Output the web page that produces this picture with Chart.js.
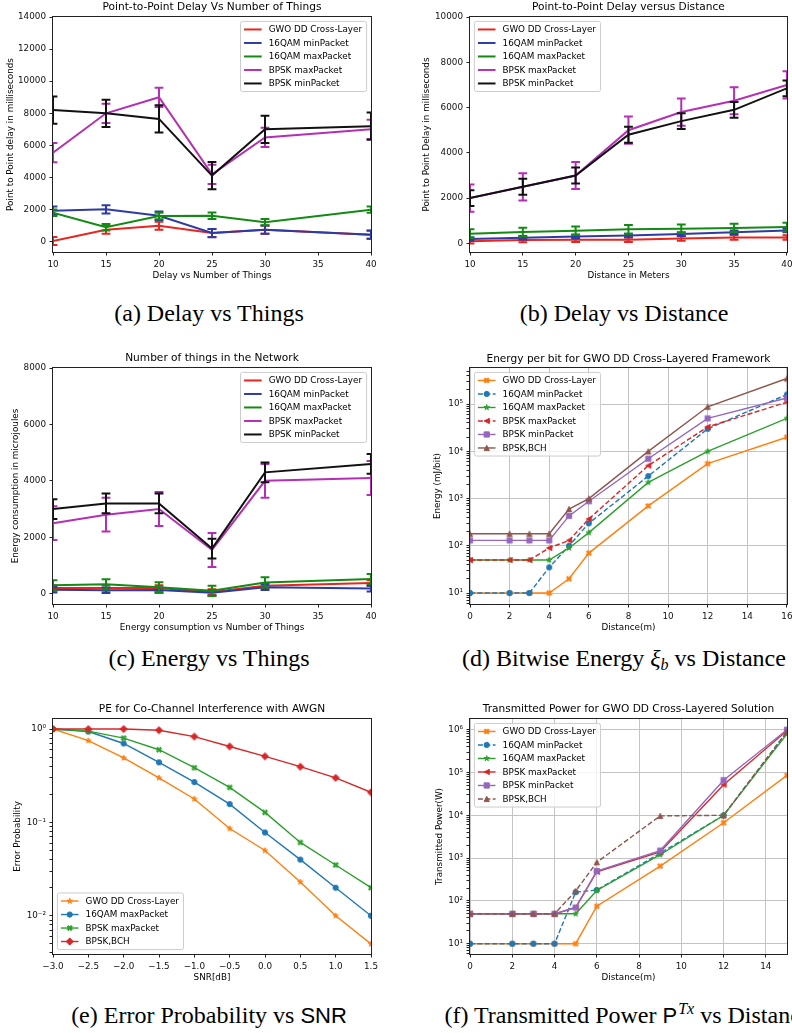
<!DOCTYPE html>
<html>
<head>
<meta charset="utf-8">
<script src="https://cdn.jsdelivr.net/npm/chart.js"></script>
<style>
  html, body { margin: 0; padding: 0; background: #fff; }
  body { position: relative; width: 792px; height: 1033px; overflow: hidden; }
  canvas { position: absolute; }
  .cap { position: absolute; width: 600px; text-align: center; white-space: nowrap;
         font-family: 'Liberation Serif', serif; font-size: 24px; line-height: 24px; color: #000; }
  .sf { font-family: 'Liberation Sans', sans-serif; font-size: 22px; }
  .sub { font-size: 16px; line-height: 0; vertical-align: -4px; font-style: italic; }
  .sup { font-size: 16px; line-height: 0; vertical-align: 9px; font-style: italic; padding-left: 1px; }
</style>
</head>
<body>
<canvas id="cA" width="396" height="292" style="left:0;top:0"></canvas>
<canvas id="cB" width="400" height="292" style="left:396px;top:0"></canvas>
<canvas id="cC" width="396" height="295" style="left:0;top:345px"></canvas>
<canvas id="cD" width="400" height="295" style="left:396px;top:345px"></canvas>
<canvas id="cE" width="396" height="300" style="left:0;top:695px"></canvas>
<canvas id="cF" width="400" height="300" style="left:396px;top:695px"></canvas>

<div class="cap" style="left:-91px;top:301px">(a) Delay vs Things</div>
<div class="cap" style="left:324px;top:301px">(b) Delay vs Distance</div>
<div class="cap" style="left:-91px;top:646px">(c) Energy vs Things</div>
<div class="cap" style="left:324px;top:646px">(d) Bitwise Energy <i>ξ</i><span class="sub">b</span> vs Distance</div>
<div class="cap" style="left:-91px;top:1003px">(e) Error Probability vs <span class="sf">SNR</span></div>
<div class="cap" style="left:328px;top:1003px">(f) Transmitted Power <span class="sf">P</span><span class="sup">Tx</span> vs Distance</div>

<script>
// ---------- data ----------
const labels5 = ['GWO DD Cross-Layer', '16QAM minPacket', '16QAM maxPacket', 'BPSK maxPacket', 'BPSK minPacket'];
const labels6 = ['GWO DD Cross-Layer', '16QAM minPacket', '16QAM maxPacket', 'BPSK maxPacket', 'BPSK minPacket', 'BPSK,BCH'];
const peLabels = ['GWO DD Cross-Layer', '16QAM maxPacket', 'BPSK maxPacket', 'BPSK,BCH'];

// (a) delay vs number of things
const thingsX = [10, 15, 20, 25, 30, 40];
const thingsXTicks = [10, 15, 20, 25, 30, 35, 40];
const delayThingsYTicks = [0, 2000, 4000, 6000, 8000, 10000, 12000, 14000];
const delayThingsGwo     = [50, 750, 1000, 540, 750, 440];
const delayThingsQamMin  = [1930, 2020, 1620, 540, 750, 440];
const delayThingsQamMax  = [1800, 900, 1600, 1620, 1220, 2000];
const delayThingsBpskMax = [5550, 8000, 9000, 4200, 6500, 7000];
const delayThingsBpskMin = [8200, 8000, 7650, 4120, 7000, 7200];
const delayThingsErrGwo     = [250, 250, 250, 250, 250, 250];
const delayThingsErrQamMin  = [260, 260, 260, 260, 260, 260];
const delayThingsErrQamMax  = [200, 200, 200, 200, 200, 200];
const delayThingsErrBpskMax = [600, 600, 600, 600, 600, 600];
const delayThingsErrBpskMin = [850, 850, 850, 850, 850, 850];

// (b) delay vs distance
const distX = [10, 15, 20, 25, 30, 35, 40];
const distXTicks = [10, 15, 20, 25, 30, 35, 40];
const delayDistYTicks = [0, 2000, 4000, 6000, 8000, 10000];
const delayDistGwo     = [90, 150, 160, 160, 220, 260, 260];
const delayDistQamMin  = [190, 250, 310, 350, 410, 490, 570];
const delayDistQamMax  = [430, 500, 560, 620, 650, 680, 720];
const delayDistBpskMax = [2000, 2500, 3000, 5000, 5800, 6300, 7000];
const delayDistBpskMin = [2000, 2500, 3000, 4800, 5400, 5900, 6850];
const delayDistErrGwo     = [100, 100, 100, 100, 100, 100, 100];
const delayDistErrQamMin  = [80, 80, 80, 80, 80, 80, 80];
const delayDistErrQamMax  = [190, 190, 190, 190, 190, 190, 190];
const delayDistErrBpskMax = [600, 600, 600, 600, 600, 600, 600];
const delayDistErrBpskMin = [350, 350, 350, 350, 350, 350, 350];

// (c) energy vs number of things
const energyThingsYTicks = [0, 2000, 4000, 6000, 8000];
const energyThingsGwo     = [200, 200, 200, 60, 280, 380];
const energyThingsQamMin  = [140, 120, 130, 30, 230, 180];
const energyThingsQamMax  = [300, 330, 225, 100, 400, 520];
const energyThingsBpskMax = [2500, 2800, 3000, 1550, 4000, 4100];
const energyThingsBpskMin = [3000, 3200, 3200, 1600, 4300, 4600];
const energyThingsErrGwo     = [100, 100, 100, 100, 100, 100];
const energyThingsErrQamMin  = [100, 100, 100, 100, 100, 100];
const energyThingsErrQamMax  = [180, 180, 180, 180, 180, 180];
const energyThingsErrBpskMax = [600, 600, 600, 600, 600, 600];
const energyThingsErrBpskMin = [350, 350, 350, 350, 350, 350];

// (d) energy per bit vs distance
const bitDistX = [0, 2, 3, 4, 5, 6, 9, 12, 16];
const bitDistXTicks = [0, 2, 4, 6, 8, 10, 12, 14, 16];
const bitEnergyYTicks = [1e1, 1e2, 1e3, 1e4, 1e5];
const bitEnergyGwo     = [10, 10, 10, 10, 20, 70, 700, 5500, 20000];
const bitEnergyQamMin  = [10, 10, 10, 35, 100, 300, 3000, 30000, 160000];
const bitEnergyQamMax  = [50, 50, 50, 50, 90, 190, 2200, 10000, 50000];
const bitEnergyBpskMax = [50, 50, 50, 90, 130, 370, 5000, 33000, 110000];
const bitEnergyBpskMin = [130, 130, 130, 130, 430, 880, 7000, 50000, 135000];
const bitEnergyBch     = [180, 180, 180, 180, 600, 1000, 10000, 88000, 350000];

// (e) error probability vs SNR
const snrX = [-3, -2.5, -2, -1.5, -1, -0.5, 0, 0.5, 1, 1.5];
const snrXTicks = [-3, -2.5, -2, -1.5, -1, -0.5, 0, 0.5, 1, 1.5];
const peYTicks = [0.01, 0.1, 1];
const peGwo     = [1.0, 0.75, 0.49, 0.30, 0.178, 0.086, 0.05, 0.023, 0.01, 0.005];
const peQamMax  = [1.0, 0.94, 0.70, 0.44, 0.27, 0.157, 0.078, 0.040, 0.020, 0.010];
const peBpskMax = [1.0, 0.95, 0.80, 0.60, 0.385, 0.237, 0.128, 0.061, 0.035, 0.020];
const peBch     = [1.0, 1.0, 1.0, 0.97, 0.83, 0.65, 0.51, 0.395, 0.30, 0.21];

// (f) transmitted power vs distance
const powerX = [0, 2, 3, 4, 5, 6, 9, 12, 15];
const powerXTicks = [0, 2, 4, 6, 8, 10, 12, 14];
const powerYTicks = [1e1, 1e2, 1e3, 1e4, 1e5, 1e6];
const powerGwo     = [10, 10, 10, 10, 10, 75, 650, 6700, 86000];
const powerQamMin  = [10, 10, 10, 10, 160, 180, 1300, 10000, 900000];
const powerQamMax  = [50, 50, 50, 50, 50, 175, 1200, 10000, 800000];
const powerBpskMax = [50, 50, 50, 50, 70, 480, 1400, 52000, 950000];
const powerBpskMin = [50, 50, 50, 50, 70, 500, 1500, 66000, 1000000];
const powerBch     = [50, 50, 50, 50, 170, 800, 9700, 10000, 900000];

// ---------- styling ----------
const FONT = "'DejaVu Sans', sans-serif";
const FS = 8.8;        // tick / label / legend size
const TITLE_FS = 10.6;
const C5 = ['#e8251f', '#2f3ba5', '#138a13', '#b52fb5', '#111111'];
const T10 = { blue: '#1f77b4', orange: '#ff7f0e', green: '#2ca02c', red: '#d62728', purple: '#9467bd', brown: '#8c564b' };

Chart.defaults.font.family = FONT;
Chart.defaults.font.size = FS;
Chart.defaults.color = '#000';

function drawMarker(ctx, mk, x, y, s, color) {
  const h = s / 2;
  ctx.save();
  ctx.fillStyle = color; ctx.strokeStyle = color; ctx.lineWidth = 0.9; ctx.setLineDash([]);
  ctx.beginPath();
  if (mk === 'o') ctx.arc(x, y, h, 0, Math.PI * 2);
  else if (mk === 's') ctx.rect(x - h, y - h, s, s);
  else if (mk === '^') { ctx.moveTo(x, y - h); ctx.lineTo(x + h, y + h); ctx.lineTo(x - h, y + h); ctx.closePath(); }
  else if (mk === '<') { ctx.moveTo(x - h, y); ctx.lineTo(x + h, y - h); ctx.lineTo(x + h, y + h); ctx.closePath(); }
  else if (mk === 'D') { const d = s * 0.68; ctx.moveTo(x, y - d); ctx.lineTo(x + d, y); ctx.lineTo(x, y + d); ctx.lineTo(x - d, y); ctx.closePath(); }
  else if (mk === '*') {
    for (let k = 0; k < 10; k++) {
      const r = k % 2 ? h * 0.4 : h * 1.1, a = -Math.PI / 2 + k * Math.PI / 5;
      ctx.lineTo(x + r * Math.cos(a), y + r * Math.sin(a));
    }
    ctx.closePath();
  } else if (mk === 'X') {
    [[-0.25, -0.5], [0, -0.25], [0.25, -0.5], [0.5, -0.25], [0.25, 0], [0.5, 0.25], [0.25, 0.5],
     [0, 0.25], [-0.25, 0.5], [-0.5, 0.25], [-0.25, 0], [-0.5, -0.25]]
      .forEach(p => ctx.lineTo(x + p[0] * s, y + p[1] * s));
    ctx.closePath();
  }
  ctx.fill(); ctx.stroke();
  ctx.restore();
}

function markerImage(mk, color, s) {
  const c = document.createElement('canvas');
  c.width = c.height = 16;
  drawMarker(c.getContext('2d'), mk, 8, 8, s, color);
  return c;
}

function pairs(xs, ys) { return xs.map((x, i) => ({ x: x, y: ys[i] })); }

// plain line with error bars (a-c)
function errLine(label, xs, ys, errs, color) {
  return { label: label, data: pairs(xs, ys), errors: errs, borderColor: color, backgroundColor: color,
           borderWidth: 2, pointRadius: 0, clip: 0 };
}

// line with markers (d-f)
function mkLine(label, xs, ys, color, mk, dashed, size) {
  size = size || 5.3;
  return { label: label, data: pairs(xs, ys), borderColor: color, backgroundColor: color,
           borderWidth: 1.4, borderDash: dashed ? [5, 2.4] : [], pointStyle: markerImage(mk, color, size),
           pointRadius: 3, mk: mk, mkSize: size, clip: 0 };
}

function sup(n) {
  const m = { '-': '\u207B', '0': '\u2070', '1': '\u00B9', '2': '\u00B2', '3': '\u00B3', '4': '\u2074',
              '5': '\u2075', '6': '\u2076', '7': '\u2077', '8': '\u2078', '9': '\u2079' };
  return String(n).split('').map(c => m[c]).join('');
}
const fmtPlain = v => String(v);
const fmtLog = v => '10' + sup(Math.round(Math.log10(v)));
const fmtSnr = v => (v < 0 ? '\u2212' : '') + Math.abs(v).toFixed(1);

function tickValues(a) {
  if (a.type !== 'logarithmic') return a.ticks;
  const out = [];
  for (let e = Math.floor(Math.log10(a.min)); e <= Math.ceil(Math.log10(a.max)); e++) {
    for (let k = 1; k < 10; k++) {
      const v = k === 1 ? Math.pow(10, e) : k * Math.pow(10, e);
      if (v >= a.min && v <= a.max) out.push(v);
    }
  }
  return out;
}

function axis(dir, a, size, titlePad) {
  const majors = a.ticks;
  return {
    type: a.type || 'linear', min: a.min, max: a.max,
    afterBuildTicks: s => { s.ticks = tickValues(a).map(v => ({ value: v })); },
    afterFit: s => { if (dir === 'x') s.height = size; else s.width = size; },
    ticks: { autoSkip: false, maxRotation: 0, minRotation: 0, padding: 3.5, color: '#111',
             font: { size: FS }, callback: v => majors.includes(v) ? a.fmt(v) : '' },
    grid: { drawOnChartArea: !!a.grid, lineWidth: 1, drawTicks: true, tickLength: 3.5,
            tickColor: '#222', tickWidth: 1,
            color: c => (c.tick && majors.includes(c.tick.value)) ? '#c4c4c4' : 'rgba(0,0,0,0)' },
    border: { display: false },
    title: { display: true, text: a.label, color: '#000', font: { size: FS },
             padding: dir === 'x' ? { top: 0, bottom: titlePad } : { top: titlePad, bottom: 0 } }
  };
}

// ---------- plugins ----------
const errorBars = {
  id: 'errorBars',
  afterDatasetDraw(chart, args) {
    const d = chart.data.datasets[args.index];
    if (!d.errors) return;
    const ctx = chart.ctx, xs = chart.scales.x, ys = chart.scales.y, a = chart.chartArea;
    ctx.save();
    ctx.beginPath(); ctx.rect(a.left, a.top, a.right - a.left, a.bottom - a.top); ctx.clip();
    ctx.strokeStyle = d.borderColor; ctx.lineWidth = d.borderWidth;
    d.data.forEach((p, i) => {
      const px = xs.getPixelForValue(p.x);
      const hi = ys.getPixelForValue(p.y + d.errors[i]);
      const lo = ys.getPixelForValue(p.y - d.errors[i]);
      ctx.beginPath();
      ctx.moveTo(px, hi); ctx.lineTo(px, lo);
      ctx.moveTo(px - 4.4, hi); ctx.lineTo(px + 4.4, hi);
      ctx.moveTo(px - 4.4, lo); ctx.lineTo(px + 4.4, lo);
      ctx.stroke();
    });
    ctx.restore();
  }
};

const frame = {
  id: 'frame',
  afterDatasetsDraw(chart) {
    const a = chart.chartArea, ctx = chart.ctx;
    ctx.save();
    ctx.strokeStyle = '#222'; ctx.lineWidth = 1;
    ctx.strokeRect(Math.round(a.left) - 0.5, Math.round(a.top) - 0.5,
                   Math.round(a.right - a.left) + 1, Math.round(a.bottom - a.top) + 1);
    ctx.restore();
  }
};

const mplLegend = {
  id: 'mplLegend',
  afterDraw(chart, args, opts) {
    const ctx = chart.ctx, a = chart.chartArea, items = chart.data.datasets;
    const pad = 0.4 * FS, hl = 2 * FS, htp = 0.8 * FS, ls = 0.5 * FS, bap = 0.5 * FS, rowH = FS + 0.3;
    ctx.save();
    ctx.font = FS + 'px ' + FONT;
    const tw = Math.max.apply(null, items.map(d => ctx.measureText(d.label).width));
    const w = pad * 2 + hl + htp + tw + 1;
    const h = pad * 2 + items.length * rowH + (items.length - 1) * ls;
    const x0 = opts.loc.indexOf('right') >= 0 ? a.right - bap - w : a.left + bap;
    const y0 = opts.loc.indexOf('upper') >= 0 ? a.top + bap : a.bottom - bap - h;
    const r = 2;
    ctx.beginPath();
    ctx.moveTo(x0 + r, y0); ctx.lineTo(x0 + w - r, y0); ctx.arcTo(x0 + w, y0, x0 + w, y0 + r, r);
    ctx.lineTo(x0 + w, y0 + h - r); ctx.arcTo(x0 + w, y0 + h, x0 + w - r, y0 + h, r);
    ctx.lineTo(x0 + r, y0 + h); ctx.arcTo(x0, y0 + h, x0, y0 + h - r, r);
    ctx.lineTo(x0, y0 + r); ctx.arcTo(x0, y0, x0 + r, y0, r);
    ctx.closePath();
    ctx.fillStyle = 'rgba(255,255,255,0.8)'; ctx.fill();
    ctx.strokeStyle = '#cccccc'; ctx.lineWidth = 1; ctx.stroke();
    items.forEach((d, i) => {
      const cy = y0 + pad + i * (rowH + ls) + rowH / 2;
      ctx.strokeStyle = d.borderColor; ctx.lineWidth = d.borderWidth;
      ctx.setLineDash(d.borderDash || []);
      ctx.beginPath(); ctx.moveTo(x0 + pad, cy); ctx.lineTo(x0 + pad + hl, cy); ctx.stroke();
      ctx.setLineDash([]);
      if (d.mk) drawMarker(ctx, d.mk, x0 + pad + hl / 2, cy, d.mkSize, d.borderColor);
      ctx.fillStyle = '#000'; ctx.textBaseline = 'middle'; ctx.textAlign = 'left';
      ctx.fillText(d.label, x0 + pad + hl + htp, cy + 0.5);
    });
    ctx.restore();
  }
};

// ---------- chart factory ----------
function makeChart(id, geo, cfg) {
  const canvas = document.getElementById(id);
  const W = canvas.width, H = canvas.height, p = geo.plot;
  const tLine = TITLE_FS * 1.2, titleTop = geo.titleY - tLine / 2;
  cfg.datasets.forEach((d, i) => { d.order = -i; });
  return new Chart(canvas, {
    type: 'line',
    data: { datasets: cfg.datasets },
    options: {
      responsive: false, animation: false, events: [],
      layout: { padding: { left: 0, top: 0, right: W - p.r, bottom: 0 } },
      plugins: {
        legend: { display: false },
        tooltip: { enabled: false },
        title: { display: true, text: cfg.title, fullSize: false, color: '#000',
                 font: { size: TITLE_FS, weight: 'normal' },
                 padding: { top: titleTop, bottom: p.t - tLine - titleTop } },
        mplLegend: { loc: cfg.legendLoc }
      },
      scales: {
        x: axis('x', cfg.x, H - p.b, H - geo.xLabelY - FS * 0.6),
        y: axis('y', cfg.y, p.l, geo.yLabelX - FS * 0.6)
      }
    },
    plugins: [errorBars, frame, mplLegend]
  });
}

// (a)
makeChart('cA', { plot: { l: 53, t: 17, r: 371, b: 252 }, titleY: 7.5, xLabelY: 276, yLabelX: 11 }, {
  title: 'Point-to-Point Delay Vs Number of Things', legendLoc: 'upper right',
  x: { min: 10, max: 40, ticks: thingsXTicks, fmt: fmtPlain, label: 'Delay vs Number of Things' },
  y: { min: -640, max: 14000, ticks: delayThingsYTicks, fmt: fmtPlain, label: 'Point to Point delay in milliseconds' },
  datasets: [
    errLine(labels5[0], thingsX, delayThingsGwo, delayThingsErrGwo, C5[0]),
    errLine(labels5[1], thingsX, delayThingsQamMin, delayThingsErrQamMin, C5[1]),
    errLine(labels5[2], thingsX, delayThingsQamMax, delayThingsErrQamMax, C5[2]),
    errLine(labels5[3], thingsX, delayThingsBpskMax, delayThingsErrBpskMax, C5[3]),
    errLine(labels5[4], thingsX, delayThingsBpskMin, delayThingsErrBpskMin, C5[4])
  ]
});

// (b)
makeChart('cB', { plot: { l: 74, t: 17, r: 391, b: 252 }, titleY: 7.5, xLabelY: 276, yLabelX: 31 }, {
  title: 'Point-to-Point Delay versus Distance', legendLoc: 'upper left',
  x: { min: 10, max: 40, ticks: distXTicks, fmt: fmtPlain, label: 'Distance in Meters' },
  y: { min: -380, max: 10000, ticks: delayDistYTicks, fmt: fmtPlain, label: 'Point to Point Delay in milliseconds' },
  datasets: [
    errLine(labels5[0], distX, delayDistGwo, delayDistErrGwo, C5[0]),
    errLine(labels5[1], distX, delayDistQamMin, delayDistErrQamMin, C5[1]),
    errLine(labels5[2], distX, delayDistQamMax, delayDistErrQamMax, C5[2]),
    errLine(labels5[3], distX, delayDistBpskMax, delayDistErrBpskMax, C5[3]),
    errLine(labels5[4], distX, delayDistBpskMin, delayDistErrBpskMin, C5[4])
  ]
});

// (c)
makeChart('cC', { plot: { l: 53, t: 23, r: 371, b: 259 }, titleY: 13.5, xLabelY: 282.5, yLabelX: 16 }, {
  title: 'Number of things in the Network', legendLoc: 'upper right',
  x: { min: 10, max: 40, ticks: thingsXTicks, fmt: fmtPlain, label: 'Energy consumption vs Number of Things' },
  y: { min: -366, max: 8000, ticks: energyThingsYTicks, fmt: fmtPlain, label: 'Energy consumption in microjoules' },
  datasets: [
    errLine(labels5[0], thingsX, energyThingsGwo, energyThingsErrGwo, C5[0]),
    errLine(labels5[1], thingsX, energyThingsQamMin, energyThingsErrQamMin, C5[1]),
    errLine(labels5[2], thingsX, energyThingsQamMax, energyThingsErrQamMax, C5[2]),
    errLine(labels5[3], thingsX, energyThingsBpskMax, energyThingsErrBpskMax, C5[3]),
    errLine(labels5[4], thingsX, energyThingsBpskMin, energyThingsErrBpskMin, C5[4])
  ]
});

// (d)
makeChart('cD', { plot: { l: 74, t: 23, r: 391, b: 259 }, titleY: 14, xLabelY: 282.5, yLabelX: 41.7 }, {
  title: 'Energy per bit for GWO DD Cross-Layered Framework', legendLoc: 'upper left',
  x: { min: 0, max: 16, ticks: bitDistXTicks, fmt: fmtPlain, label: 'Distance(m)', grid: true },
  y: { type: 'logarithmic', min: 5.85, max: 5.84e5, ticks: bitEnergyYTicks, fmt: fmtLog, label: 'Energy (mJ/bit)', grid: true },
  datasets: [
    mkLine(labels6[0], bitDistX, bitEnergyGwo, T10.orange, 'X', false),
    mkLine(labels6[1], bitDistX, bitEnergyQamMin, T10.blue, 'o', true),
    mkLine(labels6[2], bitDistX, bitEnergyQamMax, T10.green, '*', false),
    mkLine(labels6[3], bitDistX, bitEnergyBpskMax, T10.red, '<', true),
    mkLine(labels6[4], bitDistX, bitEnergyBpskMin, T10.purple, 's', false),
    mkLine(labels6[5], bitDistX, bitEnergyBch, T10.brown, '^', false)
  ]
});

// (e)
makeChart('cE', { plot: { l: 53, t: 24, r: 371, b: 259 }, titleY: 14.3, xLabelY: 282.7, yLabelX: 17.3 }, {
  title: 'PE for Co-Channel Interference with AWGN', legendLoc: 'lower left',
  x: { min: -3, max: 1.5, ticks: snrXTicks, fmt: fmtSnr, label: 'SNR[dB]' },
  y: { type: 'logarithmic', min: 0.0039, max: 1.28, ticks: peYTicks, fmt: fmtLog, label: 'Error Probability' },
  datasets: [
    mkLine(peLabels[0], snrX, peGwo, T10.orange, '*', false),
    mkLine(peLabels[1], snrX, peQamMax, T10.blue, 'o', false),
    mkLine(peLabels[2], snrX, peBpskMax, T10.green, 'X', false),
    mkLine(peLabels[3], snrX, peBch, T10.red, 'D', false)
  ]
});

// (f)
makeChart('cF', { plot: { l: 74, t: 24, r: 391, b: 259 }, titleY: 14.3, xLabelY: 282.7, yLabelX: 43.3 }, {
  title: 'Transmitted Power for GWO DD Cross-Layered Solution', legendLoc: 'upper left',
  x: { min: 0, max: 15, ticks: powerXTicks, fmt: fmtPlain, label: 'Distance(m)', grid: true },
  y: { type: 'logarithmic', min: 5.75, max: 1.78e6, ticks: powerYTicks, fmt: fmtLog, label: 'Transmitted Power(W)', grid: true },
  datasets: [
    mkLine(labels6[0], powerX, powerGwo, T10.orange, 'X', false),
    mkLine(labels6[1], powerX, powerQamMin, T10.blue, 'o', true),
    mkLine(labels6[2], powerX, powerQamMax, T10.green, '*', false),
    mkLine(labels6[3], powerX, powerBpskMax, T10.red, '<', false),
    mkLine(labels6[4], powerX, powerBpskMin, T10.purple, 's', false),
    mkLine(labels6[5], powerX, powerBch, T10.brown, '^', true)
  ]
});
</script>
</body>
</html>
